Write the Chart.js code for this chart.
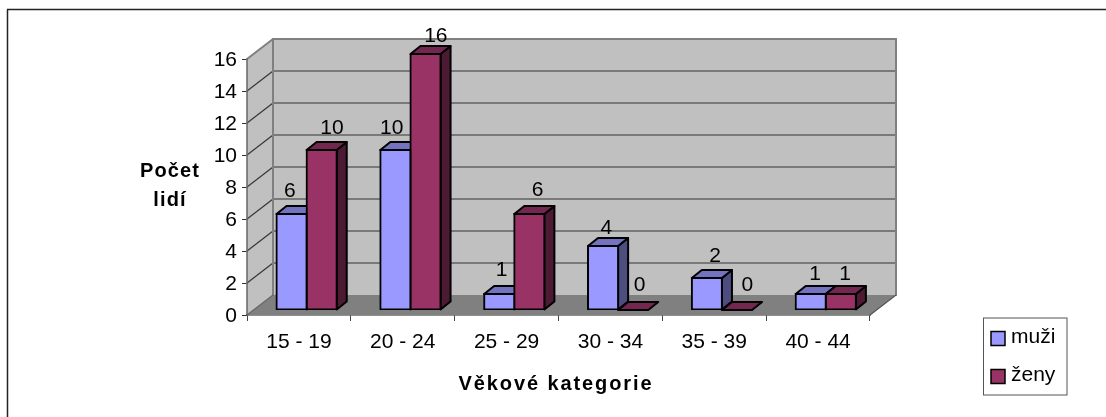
<!DOCTYPE html>
<html lang="cs">
<head>
<meta charset="utf-8">
<title>Počet lidí podle věkových kategorií</title>
<script src="https://cdn.jsdelivr.net/npm/chart.js@4"></script>
<style>html,body{margin:0;padding:0;background:#fff}canvas{display:block}</style>
</head>
<body>
<canvas id="c" width="1106" height="417"></canvas>
<script>
const categories = ['15 - 19','20 - 24','25 - 29','30 - 34','35 - 39','40 - 44'];
const muzi = [6,10,1,4,2,1];
const zeny = [10,16,6,0,0,1];
const yTitleLines = ['Počet','lidí'];
const xTitle = 'Věkové kategorie';

const FONT = '"Liberation Sans", Arial, sans-serif';
const WALL = {dx:26, dy:-20};
const PLANE = {dx:7.7, dy:-5};
const BAR = {dx:10, dy:-8};
const shades = [
  {top:'#7373BF', side:'#4D4D80'},
  {top:'#732650', side:'#4D1A33'}
];
const labelNudgeX = [[-1,-3,3,4,9,5],[11,11,9,7,11,5]];
const labelNudgeY = [[-23,-22,-24,-18,-22,-20.5],[-22,-18.5,-24,-25,-25,-20.5]];

function poly(ctx, pts, fill, stroke, lw){
  ctx.beginPath();
  pts.forEach((p,i)=> i ? ctx.lineTo(p[0],p[1]) : ctx.moveTo(p[0],p[1]));
  ctx.closePath();
  if(fill){ctx.fillStyle=fill;ctx.fill();}
  if(stroke){ctx.strokeStyle=stroke;ctx.lineWidth=lw;ctx.lineJoin='round';ctx.stroke();}
}
function line(ctx,x1,y1,x2,y2,c,w){
  ctx.beginPath();ctx.moveTo(x1,y1);ctx.lineTo(x2,y2);ctx.strokeStyle=c;ctx.lineWidth=w;ctx.stroke();
}

const scene = {
  id:'scene',
  beforeDatasetsDraw(chart){
    const ctx=chart.ctx,{left:l,right:r,top:t,bottom:b}=chart.chartArea,y=chart.scales.y;
    const d=WALL;
    ctx.save();
    // outer frame (only top and left edges fall inside the picture)
    line(ctx,7.5,417,7.5,9.5,'#222',1.5);
    line(ctx,7,9.5,1106,9.5,'#222',1.5);
    // floor, back wall, side wall
    poly(ctx,[[l,b],[l+d.dx,b+d.dy],[r+d.dx,b+d.dy],[r,b]],'#808080');
    poly(ctx,[[l+d.dx,t+d.dy],[r+d.dx,t+d.dy],[r+d.dx,b+d.dy],[l+d.dx,b+d.dy]],'#C0C0C0');
    poly(ctx,[[l,t],[l+d.dx,t+d.dy],[l+d.dx,b+d.dy],[l,b]],'#C0C0C0');
    // gridlines on both walls
    y.ticks.forEach(tk=>{
      if(tk.value===0||tk.value===y.max) return;
      const py=y.getPixelForValue(tk.value);
      line(ctx,l,py,l+d.dx,py+d.dy,'#333',1.1);
      line(ctx,l+d.dx,py+d.dy,r+d.dx,py+d.dy,'#333',1.1);
    });
    // wall outlines
    ctx.lineCap='round';
    line(ctx,l,t,l+d.dx,t+d.dy,'#808080',2);
    line(ctx,l+d.dx,t+d.dy,r+d.dx,t+d.dy,'#808080',2);
    line(ctx,r+d.dx,t+d.dy,r+d.dx,b+d.dy,'#808080',2);
    line(ctx,l+d.dx,t+d.dy,l+d.dx,b+d.dy,'#808080',2);
    line(ctx,l,b,l+d.dx,b+d.dy,'#666',1.2);
    line(ctx,r,b,r+d.dx,b+d.dy,'#555',1.2);
    line(ctx,l,t,l,b,'#666',1.5);
    ctx.restore();

    // depth faces of the bars, then shift the library's bars onto the same plane
    ctx.save();
    ctx.translate(PLANE.dx,PLANE.dy);
    chart.data.datasets.forEach((ds,si)=>{
      chart.getDatasetMeta(si).data.forEach(bar=>{
        const w=bar.width/2, L=bar.x-w, R=bar.x+w, T=bar.y, B=bar.base;
        if(B-T>0.5) poly(ctx,[[R,T],[R+BAR.dx,T+BAR.dy],[R+BAR.dx,B+BAR.dy],[R,B]],shades[si].side,'#000',2);
        poly(ctx,[[L,T],[L+BAR.dx,T+BAR.dy],[R+BAR.dx,T+BAR.dy],[R,T]],shades[si].top,'#000',2);
      });
    });
    ctx.restore();
    ctx.save();
    ctx.translate(PLANE.dx,PLANE.dy);
  },
  afterDatasetsDraw(chart){
    const ctx=chart.ctx;
    ctx.restore();
    ctx.save();
    // data labels
    ctx.font='21px '+FONT;
    ctx.fillStyle='#000';
    ctx.textAlign='center';
    ctx.textBaseline='middle';
    chart.data.datasets.forEach((ds,si)=>{
      chart.getDatasetMeta(si).data.forEach((bar,i)=>{
        ctx.fillText(String(ds.data[i]),bar.x+7+labelNudgeX[si][i],bar.y-5.5+labelNudgeY[si][i]+1);
      });
    });
    // axis titles
    ctx.font='bold 20px '+FONT;
    ctx.letterSpacing='1.1px';
    yTitleLines.forEach((s,i)=>ctx.fillText(s,170,171+i*29.5));
    ctx.letterSpacing='1.9px';
    ctx.fillText(xTitle,556,384);
    ctx.letterSpacing='0px';
    // legend
    const L=983.5,T=318,W=83.5,H=77;
    ctx.fillStyle='#fff';
    ctx.fillRect(L,T,W,H);
    ctx.strokeStyle='#555';ctx.lineWidth=1;ctx.strokeRect(L,T,W,H);
    ctx.font='21px '+FONT;
    ctx.textAlign='left';
    chart.data.datasets.forEach((ds,si)=>{
      const cy=T+20.5+si*38;
      ctx.fillStyle=ds.backgroundColor;
      ctx.fillRect(991,cy-7,14,14);
      ctx.strokeStyle='#000';ctx.lineWidth=1.5;ctx.strokeRect(991,cy-7,14,14);
      ctx.fillStyle='#000';
      ctx.fillText(ds.label,1011,cy-1);
    });
    ctx.restore();
  }
};

new Chart(document.getElementById('c'),{
  type:'bar',
  data:{
    labels:categories,
    datasets:[
      {label:'muži',data:muzi,backgroundColor:'#9999FF',borderColor:'#000',borderWidth:2,inflateAmount:1,borderSkipped:false,categoryPercentage:0.58,barPercentage:1},
      {label:'ženy',data:zeny,backgroundColor:'#993366',borderColor:'#000',borderWidth:2,inflateAmount:1,borderSkipped:false,categoryPercentage:0.58,barPercentage:1}
    ]
  },
  plugins:[scene],
  options:{
    responsive:false,
    animation:false,
    layout:{padding:{left:0,top:59,right:236,bottom:0}},
    plugins:{legend:{display:false},title:{display:false},tooltip:{enabled:false}},
    scales:{
      x:{
        afterFit(s){s.height=102;},
        grid:{offset:true,drawOnChartArea:false,drawTicks:true,tickLength:6,color:'#444',lineWidth:1},
        border:{display:true,color:'#222',width:1.5},
        ticks:{color:'#000',font:{family:FONT,size:21},padding:8.5,maxRotation:0,autoSkip:false}
      },
      y:{
        min:0,max:16,
        afterFit(s){s.width=247;},
        grid:{drawOnChartArea:false,drawTicks:true,tickLength:5,color:'#333',lineWidth:1},
        border:{display:false},
        ticks:{stepSize:2,color:'#000',font:{family:FONT,size:21},padding:5,labelOffset:1}
      }
    }
  }
});
</script>
</body>
</html>
